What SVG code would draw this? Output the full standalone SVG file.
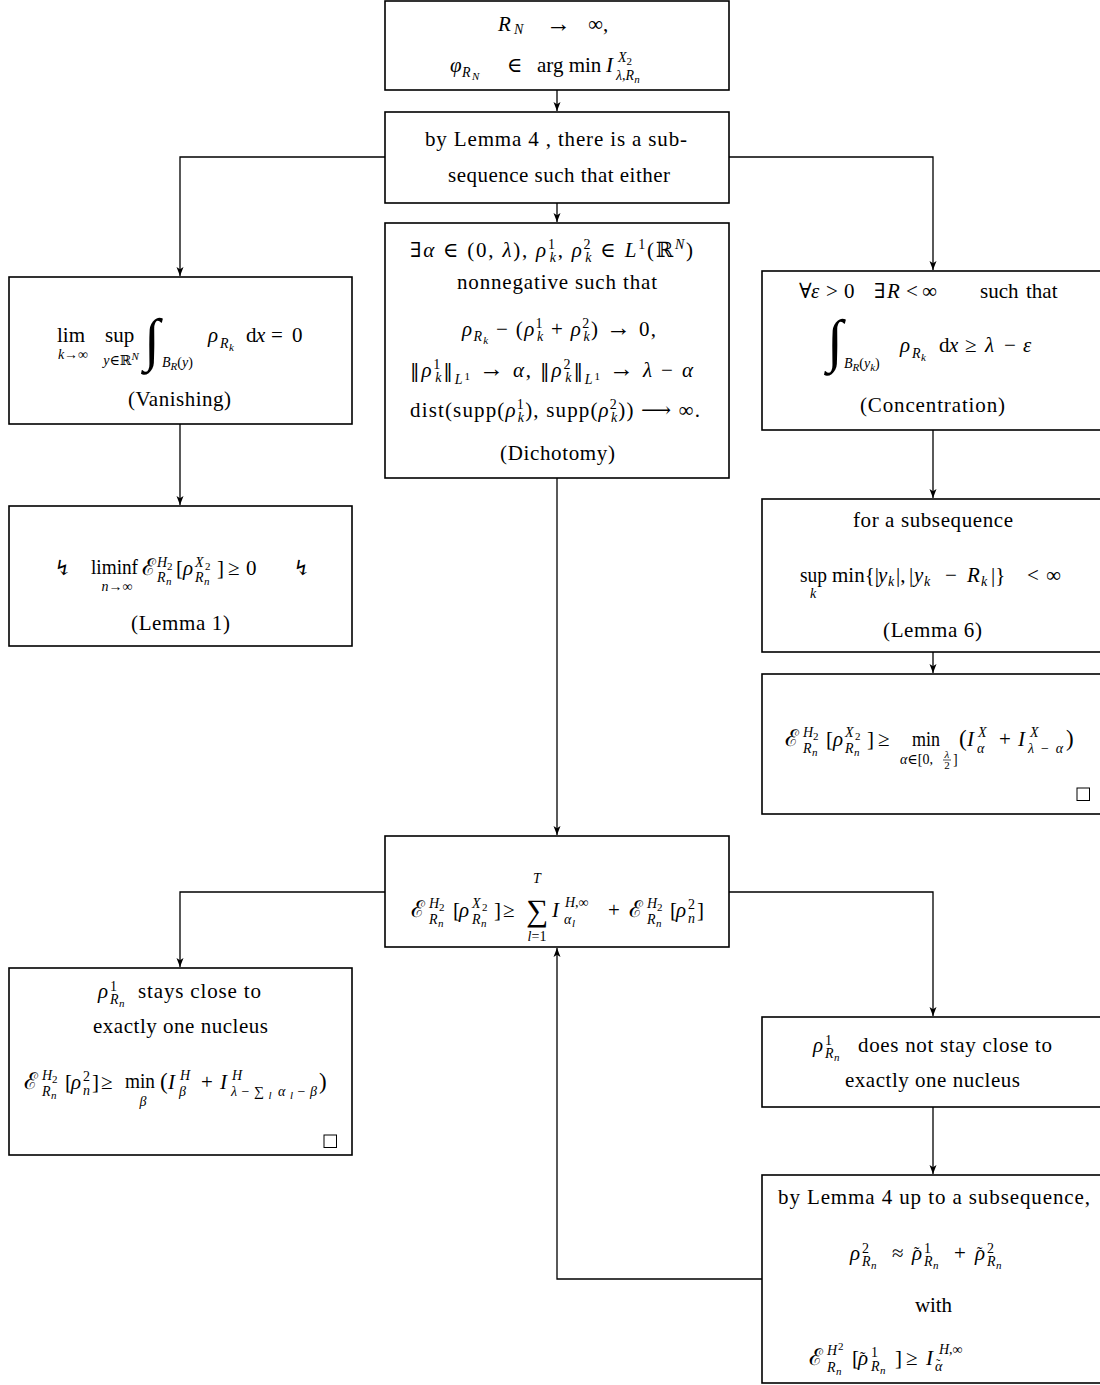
<svg xmlns="http://www.w3.org/2000/svg" width="1100" height="1385" viewBox="0 0 1100 1385">
<defs>
<style>
.t{font-family:"Liberation Serif","DejaVu Serif",serif;font-size:21px;fill:#000}
.c{text-anchor:middle}
.i{font-style:italic}
.n{font-style:normal}
.s{font-size:14px}
.xs{font-size:11px}
.ar{font-size:25px}
.E{font-size:23px}
.tl{font-size:16px;font-style:normal}
.int{font-size:58px;font-style:italic}
.nm{font-family:"DejaVu Serif",serif;font-size:19px}
.box{fill:#fff;stroke:#000;stroke-width:1.6}
.sq{fill:none;stroke:#000;stroke-width:1}
</style>
<marker id="arr" markerUnits="userSpaceOnUse" markerWidth="10" markerHeight="8" refX="9" refY="4" orient="auto">
<path d="M0,0.5 L9,4 L0,7.5 L2.2,4 z" fill="#000"/>
</marker>
</defs>
<rect width="1100" height="1385" fill="#fff"/>

<g id="connectors" fill="none" stroke="#000" stroke-width="1.3" marker-end="url(#arr)">
<path d="M557 90 V111"/>
<path d="M557 203 V222"/>
<path d="M385 157 H180 V276"/>
<path d="M729 157 H933 V270"/>
<path d="M180 424 V505"/>
<path d="M557 478 V835"/>
<path d="M933 430 V498"/>
<path d="M933 652 V673"/>
<path d="M385 892 H180 V967"/>
<path d="M729 892 H933 V1016"/>
<path d="M933 1107 V1174"/>
<path d="M762 1279 H557 V948"/>
</g>

<g id="start">
<rect class="box" x="385" y="1" width="344" height="89"/>
<text class="t"><tspan x="498" y="31" class="i">R</tspan><tspan x="514" y="34" class="s i">N</tspan><tspan x="546" y="32" class="ar">→</tspan><tspan x="588" y="31">∞,</tspan></text>
<text class="t"><tspan x="450" y="72" class="i">φ</tspan><tspan x="462" y="77" class="s i">R</tspan><tspan x="472" y="80" class="xs i">N</tspan><tspan x="507" y="72">∈</tspan><tspan x="537" y="72">arg min</tspan><tspan x="606" y="72" class="i">I</tspan></text>
<text class="t s i" x="618" y="62">X<tspan class="xs n" dy="3">2</tspan></text>
<text class="t s i" x="616" y="80">λ<tspan class="n">,</tspan>R<tspan class="xs" dy="3">n</tspan></text>
</g>

<g id="lemma4-split">
<rect class="box" x="385" y="112" width="344" height="91"/>
<text class="t" x="425" y="146" textLength="262" lengthAdjust="spacing">by Lemma 4 , there is a sub-</text>
<text class="t" x="448" y="182" textLength="222" lengthAdjust="spacing">sequence such that either</text>
</g>

<g id="dichotomy">
<rect class="box" x="385" y="223" width="344" height="255"/>
<text class="t" x="410" y="257" textLength="283" lengthAdjust="spacing">∃<tspan class="i">α</tspan> ∈ (0, <tspan class="i">λ</tspan>), <tspan class="i">ρ</tspan><tspan class="s" dy="-8">1</tspan><tspan class="s i" dx="-7" dy="13">k</tspan><tspan dy="-5">, </tspan><tspan class="i">ρ</tspan><tspan class="s" dy="-8">2</tspan><tspan class="s i" dx="-7" dy="13">k</tspan><tspan dy="-5"> ∈ </tspan><tspan class="i">L</tspan><tspan class="s" dy="-8">1</tspan><tspan dy="8">(ℝ</tspan><tspan class="s i" dy="-8">N</tspan><tspan dy="8">)</tspan></text>
<text class="t" x="457" y="289" textLength="200" lengthAdjust="spacing">nonnegative such that</text>
<text class="t" x="462" y="336" textLength="194" lengthAdjust="spacing"><tspan class="i">ρ</tspan><tspan class="s i" dy="5">R</tspan><tspan class="xs i" dy="3">k</tspan><tspan dy="-8"> − (</tspan><tspan class="i">ρ</tspan><tspan class="s" dy="-8">1</tspan><tspan class="s i" dx="-7" dy="13">k</tspan><tspan dy="-5"> + </tspan><tspan class="i">ρ</tspan><tspan class="s" dy="-8">2</tspan><tspan class="s i" dx="-7" dy="13">k</tspan><tspan dy="-5">) </tspan><tspan class="ar">→</tspan> 0,</text>
<text class="t" x="410" y="377" textLength="283" lengthAdjust="spacing"><tspan class="nm">‖</tspan><tspan class="i">ρ</tspan><tspan class="s" dy="-8">1</tspan><tspan class="s i" dx="-7" dy="13">k</tspan><tspan class="nm" dy="-5">‖</tspan><tspan class="s i" dy="7">L</tspan><tspan class="xs" dy="-4">1</tspan><tspan dy="-3"> </tspan><tspan class="ar">→</tspan> <tspan class="i">α</tspan>, <tspan class="nm">‖</tspan><tspan class="i">ρ</tspan><tspan class="s" dy="-8">2</tspan><tspan class="s i" dx="-7" dy="13">k</tspan><tspan class="nm" dy="-5">‖</tspan><tspan class="s i" dy="7">L</tspan><tspan class="xs" dy="-4">1</tspan><tspan dy="-3"> </tspan><tspan class="ar">→</tspan> <tspan class="i">λ</tspan> − <tspan class="i">α</tspan></text>
<text class="t" x="410" y="417" textLength="290" lengthAdjust="spacing">dist(supp(<tspan class="i">ρ</tspan><tspan class="s" dy="-8">1</tspan><tspan class="s i" dx="-7" dy="13">k</tspan><tspan dy="-5">), supp(</tspan><tspan class="i">ρ</tspan><tspan class="s" dy="-8">2</tspan><tspan class="s i" dx="-7" dy="13">k</tspan><tspan dy="-5">)) ⟶ ∞.</tspan></text>
<text class="t" x="500" y="460" textLength="115" lengthAdjust="spacing">(Dichotomy)</text>
</g>

<g id="vanishing">
<rect class="box" x="9" y="277" width="343" height="147"/>
<text class="t" x="57" y="342">lim</text>
<text class="t s c" x="73" y="359"><tspan class="i">k</tspan>→∞</text>
<text class="t" x="105" y="342">sup</text>
<text class="t s c" x="121" y="365"><tspan class="i">y</tspan>∈ℝ<tspan class="xs i" dy="-5">N</tspan></text>
<text class="t int" x="144" y="359">∫</text>
<text class="t s" x="162" y="367"><tspan class="i">B</tspan><tspan class="xs i" dy="3">R</tspan><tspan dy="-3">(</tspan><tspan class="i">y</tspan>)</text>
<text class="t"><tspan x="208" y="342" class="i">ρ</tspan><tspan x="220" y="348" class="s i">R</tspan><tspan x="229" y="351" class="xs i">k</tspan><tspan x="246" y="342">d</tspan><tspan x="256" y="342" class="i">x</tspan><tspan x="271" y="342">=</tspan><tspan x="292" y="342">0</tspan></text>
<text class="t" x="128" y="406" textLength="103" lengthAdjust="spacing">(Vanishing)</text>
</g>

<g id="lemma1">
<rect class="box" x="9" y="506" width="343" height="140"/>
<text class="t" x="54" y="575">↯</text>
<text class="t" x="91" y="574" textLength="47" lengthAdjust="spacingAndGlyphs">liminf</text>
<text class="t s c" x="117" y="591"><tspan class="i">n</tspan>→∞</text>
<text class="t"><tspan x="142" y="575" class="E">ℰ</tspan><tspan x="157" y="567" class="s i">H</tspan><tspan x="167" y="570" class="xs">2</tspan><tspan x="157" y="582" class="s i">R</tspan><tspan x="166" y="585" class="xs i">n</tspan><tspan x="176" y="575">[</tspan><tspan x="183" y="575" class="i">ρ</tspan><tspan x="195" y="567" class="s i">X</tspan><tspan x="205" y="570" class="xs">2</tspan><tspan x="195" y="582" class="s i">R</tspan><tspan x="204" y="585" class="xs i">n</tspan><tspan x="217" y="575">]</tspan><tspan x="228" y="575">≥</tspan><tspan x="246" y="575">0</tspan></text>
<text class="t" x="293" y="575">↯</text>
<text class="t" x="131" y="630" textLength="99" lengthAdjust="spacing">(Lemma 1)</text>
</g>

<g id="concentration">
<rect class="box" x="762" y="271" width="350" height="159"/>
<text class="t"><tspan x="799" y="298">∀</tspan><tspan x="811" y="298" class="i">ε</tspan><tspan x="826" y="298">&gt;</tspan><tspan x="844" y="298">0</tspan><tspan x="874" y="298">∃</tspan><tspan x="887" y="298" class="i">R</tspan><tspan x="906" y="298">&lt;</tspan><tspan x="922" y="298">∞</tspan><tspan x="980" y="298">such</tspan><tspan x="1026" y="298">that</tspan></text>
<text class="t int" x="827" y="360">∫</text>
<text class="t s" x="844" y="368"><tspan class="i">B</tspan><tspan class="xs i" dy="3">R</tspan><tspan dy="-3">(</tspan><tspan class="i">y</tspan><tspan class="xs i" dy="3">k</tspan><tspan dy="-3">)</tspan></text>
<text class="t"><tspan x="900" y="352" class="i">ρ</tspan><tspan x="912" y="358" class="s i">R</tspan><tspan x="921" y="361" class="xs i">k</tspan><tspan x="939" y="352">d</tspan><tspan x="949" y="352" class="i">x</tspan><tspan x="965" y="352">≥</tspan><tspan x="985" y="352" class="i">λ</tspan><tspan x="1004" y="352">−</tspan><tspan x="1023" y="352" class="i">ε</tspan></text>
<text class="t" x="860" y="412" textLength="145" lengthAdjust="spacing">(Concentration)</text>
</g>

<g id="lemma6">
<rect class="box" x="762" y="499" width="350" height="153"/>
<text class="t" x="853" y="527" textLength="160" lengthAdjust="spacing">for a subsequence</text>
<text class="t" x="800" y="582" textLength="27" lengthAdjust="spacingAndGlyphs">sup</text>
<text class="t s i c" x="813" y="598">k</text>
<text class="t"><tspan x="832" y="582">min{|</tspan><tspan x="878" y="582" class="i">y</tspan><tspan x="888" y="586" class="s i">k</tspan><tspan x="896" y="582">|,</tspan><tspan x="909" y="582">|</tspan><tspan x="914" y="582" class="i">y</tspan><tspan x="924" y="586" class="s i">k</tspan><tspan x="945" y="582">−</tspan><tspan x="967" y="582" class="i">R</tspan><tspan x="981" y="586" class="s i">k</tspan><tspan x="991" y="582">|}</tspan><tspan x="1027" y="582">&lt;</tspan><tspan x="1046" y="582">∞</tspan></text>
<text class="t" x="883" y="637" textLength="99" lengthAdjust="spacing">(Lemma 6)</text>
</g>

<g id="concentration-bound">
<rect class="box" x="762" y="674" width="350" height="140"/>
<text class="t"><tspan x="785" y="746" class="E">ℰ</tspan><tspan x="803" y="737" class="s i">H</tspan><tspan x="813" y="740" class="xs">2</tspan><tspan x="803" y="753" class="s i">R</tspan><tspan x="812" y="756" class="xs i">n</tspan><tspan x="826" y="746">[</tspan><tspan x="833" y="746" class="i">ρ</tspan><tspan x="845" y="737" class="s i">X</tspan><tspan x="855" y="740" class="xs">2</tspan><tspan x="845" y="753" class="s i">R</tspan><tspan x="854" y="756" class="xs i">n</tspan><tspan x="867" y="746">]</tspan><tspan x="878" y="746">≥</tspan></text>
<text class="t" x="912" y="746" textLength="28" lengthAdjust="spacingAndGlyphs">min</text>
<text class="t s" x="900" y="764"><tspan class="i">α</tspan>∈[0,</text>
<text class="t xs i c" x="947" y="758">λ</text>
<path d="M943 760 H951" stroke="#000" stroke-width="0.7"/>
<text class="t xs c" x="947" y="769">2</text>
<text class="t s" x="953" y="764">]</text>
<text class="t"><tspan x="959" y="746" style="font-size:23px">(</tspan><tspan x="967" y="746" class="i">I</tspan><tspan x="978" y="737" class="s i">X</tspan><tspan x="977" y="753" class="s i">α</tspan><tspan x="999" y="746">+</tspan><tspan x="1018" y="746" class="i">I</tspan><tspan x="1030" y="737" class="s i">X</tspan><tspan x="1066" y="746" style="font-size:23px">)</tspan></text>
<text class="t s i" x="1028" y="753" textLength="35" lengthAdjust="spacing">λ<tspan class="n">−</tspan>α</text>
<rect class="sq" x="1077" y="788" width="12.5" height="12.5"/>
</g>

<g id="energy-sum">
<rect class="box" x="385" y="836" width="344" height="111"/>
<text class="t"><tspan x="411" y="917" class="E">ℰ</tspan><tspan x="429" y="908" class="s i">H</tspan><tspan x="439" y="911" class="xs">2</tspan><tspan x="429" y="924" class="s i">R</tspan><tspan x="438" y="927" class="xs i">n</tspan><tspan x="453" y="917">[</tspan><tspan x="459" y="917" class="i">ρ</tspan><tspan x="472" y="908" class="s i">X</tspan><tspan x="482" y="911" class="xs">2</tspan><tspan x="472" y="924" class="s i">R</tspan><tspan x="481" y="927" class="xs i">n</tspan><tspan x="494" y="917">]</tspan><tspan x="503" y="917">≥</tspan></text>
<text class="t c" x="537" y="921" style="font-size:31px">∑</text>
<text class="t s i c" x="537" y="883">T</text>
<text class="t s c" x="537" y="941"><tspan class="i">l</tspan>=1</text>
<text class="t"><tspan x="552" y="917" class="i">I</tspan><tspan x="565" y="907" class="s i">H</tspan><tspan x="575" y="907" class="s">,∞</tspan><tspan x="564" y="924" class="s i">α</tspan><tspan x="572" y="927" class="xs i">l</tspan><tspan x="608" y="917">+</tspan><tspan x="629" y="917" class="E">ℰ</tspan><tspan x="647" y="908" class="s i">H</tspan><tspan x="657" y="911" class="xs">2</tspan><tspan x="647" y="924" class="s i">R</tspan><tspan x="656" y="927" class="xs i">n</tspan><tspan x="670" y="917">[</tspan><tspan x="676" y="917" class="i">ρ</tspan><tspan x="688" y="909" class="s">2</tspan><tspan x="688" y="923" class="s i">n</tspan><tspan x="697" y="917">]</tspan></text>
</g>

<g id="stays-close">
<rect class="box" x="9" y="968" width="343" height="187"/>
<text class="t"><tspan x="98" y="998" class="i">ρ</tspan><tspan x="110" y="991" class="s">1</tspan><tspan x="110" y="1004" class="s i">R</tspan><tspan x="119" y="1007" class="xs i">n</tspan></text>
<text class="t" x="138" y="998" textLength="123" lengthAdjust="spacing">stays close to</text>
<text class="t" x="93" y="1033" textLength="175" lengthAdjust="spacing">exactly one nucleus</text>
<text class="t"><tspan x="24" y="1089" class="E">ℰ</tspan><tspan x="42" y="1080" class="s i">H</tspan><tspan x="52" y="1083" class="xs">2</tspan><tspan x="42" y="1096" class="s i">R</tspan><tspan x="51" y="1099" class="xs i">n</tspan><tspan x="65" y="1089">[</tspan><tspan x="71" y="1089" class="i">ρ</tspan><tspan x="83" y="1081" class="s">2</tspan><tspan x="83" y="1095" class="s i">n</tspan><tspan x="92" y="1089">]</tspan><tspan x="101" y="1089">≥</tspan></text>
<text class="t" x="125" y="1088" textLength="30" lengthAdjust="spacingAndGlyphs">min</text>
<text class="t s i c" x="143" y="1106">β</text>
<text class="t"><tspan x="160" y="1089" style="font-size:23px">(</tspan><tspan x="168" y="1089" class="i">I</tspan><tspan x="180" y="1080" class="s i">H</tspan><tspan x="179" y="1096" class="s i">β</tspan><tspan x="201" y="1089">+</tspan><tspan x="220" y="1089" class="i">I</tspan><tspan x="232" y="1080" class="s i">H</tspan></text>
<text class="t s i" x="231" y="1096" textLength="86" lengthAdjust="spacing">λ<tspan class="n">−∑</tspan><tspan class="xs" dy="3">l</tspan><tspan dy="-3" dx="2">α</tspan><tspan class="xs" dy="3">l</tspan><tspan class="n" dy="-3">−</tspan>β</text>
<text class="t" x="319" y="1089" style="font-size:23px">)</text>
<rect class="sq" x="324" y="1135" width="12.5" height="12.5"/>
</g>

<g id="not-close">
<rect class="box" x="762" y="1017" width="350" height="90"/>
<text class="t"><tspan x="813" y="1052" class="i">ρ</tspan><tspan x="825" y="1045" class="s">1</tspan><tspan x="825" y="1058" class="s i">R</tspan><tspan x="834" y="1061" class="xs i">n</tspan></text>
<text class="t" x="858" y="1052" textLength="194" lengthAdjust="spacing">does not stay close to</text>
<text class="t" x="845" y="1087" textLength="175" lengthAdjust="spacing">exactly one nucleus</text>
</g>

<g id="lemma4-again">
<rect class="box" x="762" y="1175" width="350" height="208"/>
<text class="t" x="778" y="1204" textLength="312" lengthAdjust="spacing">by Lemma 4 up to a subsequence,</text>
<text class="t"><tspan x="850" y="1260" class="i">ρ</tspan><tspan x="862" y="1253" class="s">2</tspan><tspan x="862" y="1266" class="s i">R</tspan><tspan x="871" y="1269" class="xs i">n</tspan><tspan x="892" y="1260">≈</tspan><tspan x="912" y="1260" class="i">ρ</tspan><tspan x="914" y="1258" class="tl">˜</tspan><tspan x="924" y="1253" class="s">1</tspan><tspan x="924" y="1266" class="s i">R</tspan><tspan x="933" y="1269" class="xs i">n</tspan><tspan x="954" y="1260">+</tspan><tspan x="975" y="1260" class="i">ρ</tspan><tspan x="977" y="1258" class="tl">˜</tspan><tspan x="987" y="1253" class="s">2</tspan><tspan x="987" y="1266" class="s i">R</tspan><tspan x="996" y="1269" class="xs i">n</tspan></text>
<text class="t" x="915" y="1312" textLength="37" lengthAdjust="spacing">with</text>
<text class="t"><tspan x="809" y="1365" class="E">ℰ</tspan><tspan x="827" y="1355" class="s i">H</tspan><tspan x="838" y="1350" class="xs">2</tspan><tspan x="827" y="1372" class="s i">R</tspan><tspan x="836" y="1375" class="xs i">n</tspan><tspan x="852" y="1365">[</tspan><tspan x="858" y="1365" class="i">ρ</tspan><tspan x="860" y="1363" class="tl">˜</tspan><tspan x="871" y="1357" class="s">1</tspan><tspan x="871" y="1371" class="s i">R</tspan><tspan x="880" y="1374" class="xs i">n</tspan><tspan x="895" y="1365">]</tspan><tspan x="906" y="1365">≥</tspan><tspan x="926" y="1365" class="i">I</tspan><tspan x="939" y="1354" class="s i">H</tspan><tspan x="949" y="1354" class="s">,∞</tspan><tspan x="935" y="1371" class="s i">α</tspan><tspan x="936" y="1368" style="font-size:13px;font-style:normal">˜</tspan></text>
</g>
</svg>
